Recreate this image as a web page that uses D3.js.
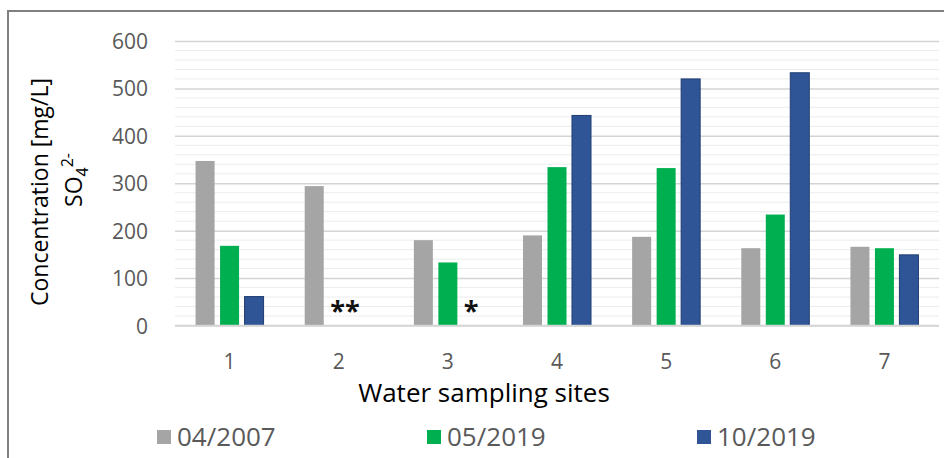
<!DOCTYPE html>
<html>
<head>
<meta charset="utf-8">
<script src="https://cdn.jsdelivr.net/npm/d3@7"></script>
<style>
  html, body { margin: 0; padding: 0; background: #fff; }
  svg { display: block; }
  text { font-family: "Open Sans", "Noto Sans", sans-serif; }
</style>
</head>
<body>
<svg id="chart" width="944" height="458"></svg>
<script>
const sites = ["1", "2", "3", "4", "5", "6", "7"];
const seriesNames = ["04/2007", "05/2019", "10/2019"];
const values2007 = [347, 294, 180, 190, 187, 163, 166];
const values2019May = [168, null, 133, 334, 332, 234, 163];
const values2019Oct = [61, null, null, 443, 520, 533, 149];
const seriesColors = ["#a5a5a5", "#00b050", "#2f5597"];
const seriesStrokes = ["none", "none", "#1f3c70"];
const yTicks = [0, 100, 200, 300, 400, 500, 600];
const annotations = [
  { site: "2", series: "05/2019", text: "**" },
  { site: "3", series: "10/2019", text: "*" }
];

const seriesValues = [values2007, values2019May, values2019Oct];
const svg = d3.select("#chart");

// frame
svg.append("path").attr("d", "M8,458 V11 H944")
  .attr("fill", "none").attr("stroke", "#808080").attr("stroke-width", 2);

const x0 = d3.scaleBand().domain(sites).range([175, 939]).paddingInner(0).paddingOuter(0);
const bw = x0.bandwidth();
const x1 = d3.scaleBand().domain(seriesNames)
  .range([bw / 2 - 34, bw / 2 + 34]).paddingInner(0.224).paddingOuter(0);
const y = d3.scaleLinear().domain([0, 600]).range([325.5, 41]);

// minor gridlines
const minor = d3.range(0, 601, 20).filter(v => v % 100 !== 0);
svg.append("g").selectAll("line").data(minor).join("line")
  .attr("x1", 175).attr("x2", 939)
  .attr("y1", d => y(d)).attr("y2", d => y(d))
  .attr("stroke", "#ececec").attr("stroke-width", 1);

// major gridlines via axis
const yAxis = d3.axisLeft(y).tickValues(yTicks).tickSize(-(939 - 175)).tickPadding(27);
const gy = svg.append("g").attr("transform", "translate(175,0)").call(yAxis);
gy.select(".domain").remove();
gy.selectAll(".tick line").attr("stroke", "#d4d4d4").attr("stroke-width", 1.5);
gy.selectAll(".tick text").attr("fill", "#595959").attr("font-size", 21)
  .attr("font-family", "'Open Sans', sans-serif").attr("dy", "0.36em");

// bars
const groups = svg.append("g").selectAll("g").data(sites).join("g")
  .attr("transform", d => `translate(${x0(d)},0)`);
groups.selectAll("rect")
  .data((site, i) => seriesNames.map((s, k) => ({ s, k, v: seriesValues[k][i] })).filter(d => d.v != null))
  .join("rect")
  .attr("x", d => x1(d.s))
  .attr("width", x1.bandwidth())
  .attr("y", d => y(d.v))
  .attr("height", d => y(0) - y(d.v))
  .attr("fill", d => seriesColors[d.k])
  .attr("stroke", d => seriesStrokes[d.k])
  .attr("stroke-width", 1);

// baseline
svg.append("line").attr("x1", 175).attr("x2", 939).attr("y1", y(0)).attr("y2", y(0))
  .attr("stroke", "#d4d4d4").attr("stroke-width", 1.5);

// x axis labels
const xAxis = d3.axisBottom(x0).tickSize(0).tickPadding(29);
const gx = svg.append("g").attr("transform", `translate(0,${y(0)})`).call(xAxis);
gx.select(".domain").remove();
gx.selectAll(".tick text").attr("fill", "#595959").attr("font-size", 21)
  .attr("font-family", "'Open Sans', sans-serif");

// annotations
svg.append("g").selectAll("text").data(annotations).join("text")
  .attr("x", d => x0(d.site) + x1(d.series) + 1)
  .attr("y", y(0) - 6)
  .attr("font-size", 27).attr("font-weight", "bold").attr("fill", "#111")
  .attr("font-family", "'DejaVu Sans', sans-serif")
  .text(d => d.text);

// x title
svg.append("text").attr("x", 484).attr("y", 402).attr("text-anchor", "middle")
  .attr("font-size", 26).attr("fill", "#000").text("Water sampling sites");

// y title
const yt = svg.append("text").attr("transform", "translate(48,192) rotate(-90)")
  .attr("text-anchor", "middle").attr("font-size", 23).attr("fill", "#000");
yt.text("Concentration [mg/L]");
const yt2 = svg.append("text").attr("transform", "translate(82,180) rotate(-90)")
  .attr("text-anchor", "middle").attr("font-size", 23).attr("fill", "#000");
yt2.append("tspan").text("SO");
yt2.append("tspan").attr("font-size", 16).attr("dy", 6).text("4");
yt2.append("tspan").attr("font-size", 16).attr("dy", -15).text("2-");

// legend
const legendX = [157, 427, 697];
const lg = svg.append("g").selectAll("g").data(seriesNames).join("g")
  .attr("transform", (d, i) => `translate(${legendX[i]},430)`);
lg.append("rect").attr("width", 14).attr("height", 14).attr("fill", (d, i) => seriesColors[i]);
lg.append("text").attr("x", 20).attr("y", 16).attr("font-size", 26).attr("fill", "#595959")
  .text(d => d);
</script>
</body>
</html>
